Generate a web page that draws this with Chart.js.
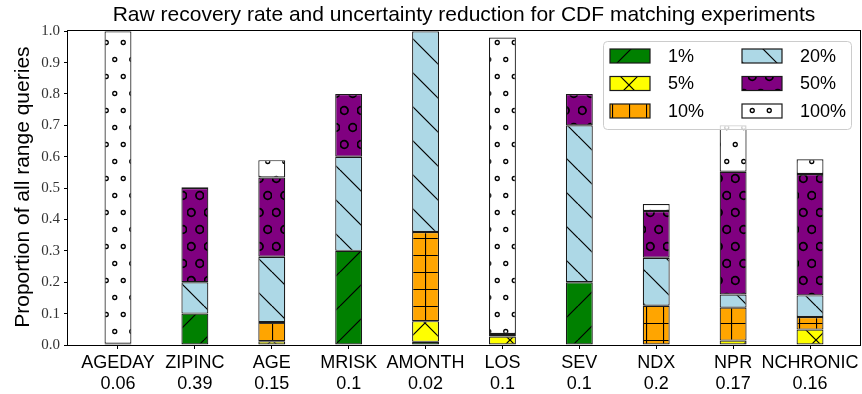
<!DOCTYPE html>
<html lang="en">
<head>
  <meta charset="UTF-8" />
  <title>Raw recovery rate and uncertainty reduction</title>
  <script src="https://cdn.jsdelivr.net/npm/chart.js"></script>
  <style>
    body { margin: 0; background: #fff; }
    canvas { display: block; }
  </style>
</head>
<body>
  <canvas id="chart" width="862" height="394"></canvas>

  <script>
    // attributes and their uncertainty reduction (second tick line)
    const attributes = ['AGEDAY', 'ZIPINC', 'AGE', 'MRISK', 'AMONTH', 'LOS', 'SEV', 'NDX', 'NPR', 'NCHRONIC'];
    const reduction = ['0.06', '0.39', '0.15', '0.1', '0.02', '0.1', '0.1', '0.2', '0.17', '0.16'];

    // share of range queries recovered within each error bucket (stacked)
    const within1 = [0, 0.1, 0, 0.3, 0.01, 0, 0.2, 0, 0, 0];
    const within5 = [0, 0, 0.012, 0, 0.066, 0.027, 0, 0, 0.014, 0.049];
    const within10 = [0, 0, 0.061, 0, 0.284, 0.008, 0, 0.125, 0.105, 0.04];
    const within20 = [0, 0.1, 0.208, 0.3, 0.64, 0, 0.5, 0.153, 0.042, 0.069];
    const within50 = [0.004, 0.3, 0.253, 0.2, 0, 0, 0.1, 0.149, 0.391, 0.387];
    const within100 = [0.996, 0.003, 0.055, 0, 0, 0.945, 0, 0.022, 0.148, 0.047];

    const bucketLabels = ['1%', '5%', '10%', '20%', '50%', '100%'];
    const yTicks = [0, 0.1, 0.2, 0.3, 0.4, 0.5, 0.6, 0.7, 0.8, 0.9, 1.0];
    const yTitle = 'Proportion of all range queries';

    const SANS = '"Liberation Sans", Arial, sans-serif';
    const SERIF = '"Liberation Serif", "DejaVu Serif", serif';

    // hatch tiles, matplotlib style
    function hatch(fill, kind) {
      const big = 34, small = 17;
      const tile = document.createElement('canvas');
      const w = (kind === '+' || kind === 'o' || kind === 'O') ? small : big;
      const h = (kind === '+') ? small : big;
      tile.width = w; tile.height = h;
      const c = tile.getContext('2d');
      c.fillStyle = fill;
      c.fillRect(0, 0, w, h);
      c.strokeStyle = '#000';
      c.lineWidth = 1.2;
      const diag = (dir) => {
        for (const k of [-big, 0, big]) {
          c.beginPath();
          if (dir === '/') { c.moveTo(k, big); c.lineTo(k + big, 0); }
          else { c.moveTo(k, 0); c.lineTo(k + big, big); }
          c.stroke();
        }
      };
      if (kind === '/' || kind === 'x') diag('/');
      if (kind === '\\' || kind === 'x') diag('\\');
      if (kind === '+') {
        c.beginPath();
        c.moveTo(0.5, 0); c.lineTo(0.5, h);
        c.moveTo(0, 0.5); c.lineTo(w, 0.5);
        c.stroke();
      }
      if (kind === 'o' || kind === 'O') {
        const r = kind === 'O' ? 3.8 : 2.0;
        c.lineWidth = kind === 'O' ? 1.8 : 1.3;
        for (const [cx, cy] of [[4.25, 8.5], [12.75, 25.5]]) {
          c.beginPath();
          c.arc(cx, cy, r, 0, Math.PI * 2);
          c.stroke();
        }
      }
      const ctx2 = document.getElementById('chart').getContext('2d');
      return ctx2.createPattern(tile, 'repeat');
    }

    const fills = [
      hatch('#008000', '/'),
      hatch('#ffff00', 'x'),
      hatch('#ffa500', '+'),
      hatch('#add8e6', '\\'),
      hatch('#800080', 'O'),
      hatch('#ffffff', 'o')
    ];
    const series = [within1, within5, within10, within20, within50, within100];

    const datasets = series.map((vals, i) => ({
      label: bucketLabels[i],
      data: vals.map((v, j) => ({ x: j, y: v })),
      backgroundColor: fills[i],
      borderColor: '#1a1a1a',
      borderWidth: 1.2,
      borderSkipped: false,
      barPercentage: 0.35,
      categoryPercentage: 1.0
    }));

    // box around the axes, like matplotlib spines, plus the y axis title
    const framePlugin = {
      id: 'frame',
      afterDatasetsDraw(chart) {
        const { ctx, chartArea: a } = chart;
        ctx.save();
        ctx.strokeStyle = '#000';
        ctx.lineWidth = 1;
        ctx.strokeRect(Math.round(a.left) - 0.5, Math.round(a.top) - 0.5,
          Math.round(a.right - a.left) + 1, Math.round(a.bottom - a.top) + 1);
        ctx.translate(29, (a.top + a.bottom) / 2 - 1);
        ctx.rotate(-Math.PI / 2);
        ctx.font = '21px ' + SANS;
        ctx.fillStyle = '#000';
        ctx.textAlign = 'center';
        ctx.textBaseline = 'alphabetic';
        ctx.fillText(yTitle, 0, 0);
        ctx.restore();
      }
    };

    // two-column legend in the upper right corner
    const legendPlugin = {
      id: 'boxLegend',
      afterDraw(chart) {
        const { ctx } = chart;
        const bx = 603, by = 41, bw = 248, bh = 88;
        ctx.save();
        ctx.beginPath();
        ctx.roundRect(bx + 0.5, by + 0.5, bw, bh, 4);
        ctx.fillStyle = 'rgba(255,255,255,0.8)';
        ctx.fill();
        ctx.strokeStyle = '#cccccc';
        ctx.lineWidth = 1;
        ctx.stroke();
        ctx.font = '18px ' + SANS;
        ctx.textBaseline = 'middle';
        chart.data.datasets.forEach((ds, i) => {
          const col = Math.floor(i / 3), row = i % 3;
          const px = 610 + col * 132, py = 49 + row * 27.5;
          ctx.fillStyle = ds.backgroundColor;
          ctx.fillRect(px, py, 40, 14);
          ctx.strokeStyle = '#1a1a1a';
          ctx.lineWidth = 1.2;
          ctx.strokeRect(px, py, 40, 14);
          ctx.fillStyle = '#000';
          ctx.fillText(ds.label, px + 58, py + 8);
        });
        ctx.restore();
      }
    };

    new Chart(document.getElementById('chart'), {
      type: 'bar',
      data: { datasets },
      options: {
        responsive: false,
        animation: false,
        layout: { padding: { left: 0, right: 2, top: 0, bottom: 0 } },
        plugins: {
          legend: { display: false },
          tooltip: { enabled: false },
          title: {
            display: true,
            fullSize: false,
            text: 'Raw recovery rate and uncertainty reduction for CDF matching experiments',
            color: '#000',
            font: { family: SANS, size: 21, weight: 'normal' },
            padding: { top: 3, bottom: 3 }
          }
        },
        scales: {
          x: {
            type: 'linear',
            offset: false,
            stacked: true,
            min: -0.65,
            max: 9.65,
            afterBuildTicks: axis => { axis.ticks = attributes.map((_, i) => ({ value: i })); },
            afterFit: axis => { axis.height = 49; },
            grid: { display: true, offset: false, drawOnChartArea: false, tickLength: 4, color: '#000' },
            border: { display: false },
            ticks: {
              autoSkip: false,
              maxRotation: 0,
              padding: 3,
              color: '#000',
              font: { family: SANS, size: 18 },
              callback: v => [attributes[v], reduction[v]]
            }
          },
          y: {
            stacked: true,
            min: 0,
            max: 1,
            afterBuildTicks: axis => { axis.ticks = yTicks.map(v => ({ value: v })); },
            afterFit: axis => { axis.width = 68; },
            grid: { display: true, drawOnChartArea: false, tickLength: 4, color: '#000' },
            border: { display: false },
            ticks: {
              padding: 4,
              color: '#333',
              font: { family: SERIF, size: 15 },
              callback: v => v.toFixed(1)
            }
          }
        }
      },
      plugins: [framePlugin, legendPlugin]
    });
  </script>
</body>
</html>
